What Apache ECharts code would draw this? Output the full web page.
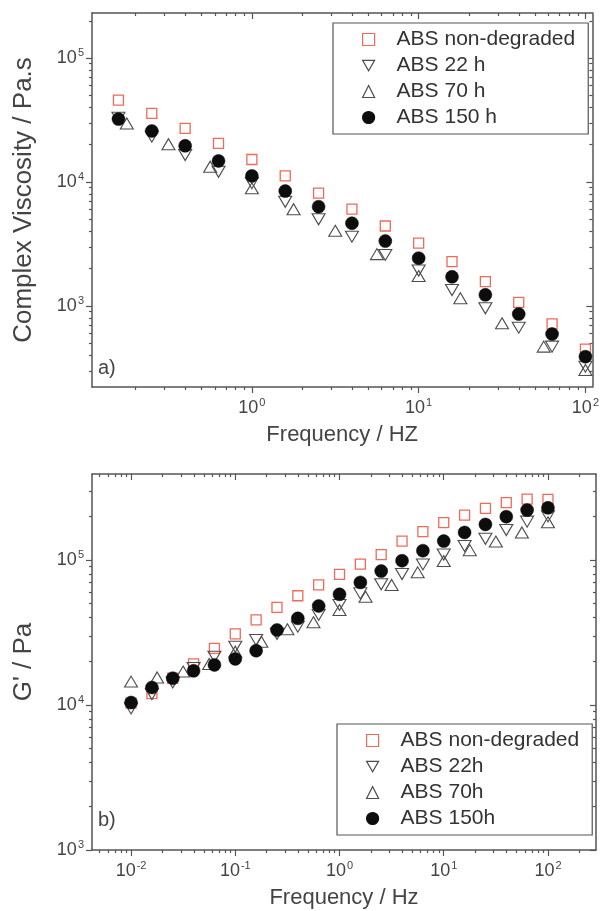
<!DOCTYPE html>
<html><head><meta charset="utf-8">
<script src="https://cdn.jsdelivr.net/npm/echarts@6/dist/echarts.min.js"></script>
<style>html,body{margin:0;padding:0;background:#fff}#c{width:602px;height:911px}</style>
</head><body><div id="c"></div>
<script>
// ---------- data: panel a) complex viscosity ----------
const freqA   = [0.1585, 0.2512, 0.3981, 0.631, 1, 1.585, 2.512, 3.981, 6.31, 10, 15.85, 25.12, 39.81, 63.1, 100];
const freqA70 = [0.1778, 0.3162, 0.5623, 1, 1.778, 3.162, 5.623, 10, 17.78, 31.62, 56.23, 100];
const etaNonDeg = [45800, 35800, 27100, 20500, 15200, 11200, 8150, 6050, 4420, 3210, 2280, 1570, 1070, 716, 448];
const eta22h    = [33000, 23200, 16500, 12100, 9800, 6930, 5000, 3620, 2580, 1930, 1345, 958, 668, 470, 324];
const eta70h    = [29700, 20200, 13300, 8900, 6030, 4040, 2620, 1745, 1154, 725, 470, 305];
const eta150h   = [32200, 25800, 19600, 14800, 11200, 8450, 6320, 4650, 3340, 2430, 1720, 1230, 861, 594, 390];
// ---------- data: panel b) storage modulus G' ----------
const freqB   = [0.01, 0.01585, 0.02512, 0.03981, 0.0631, 0.1, 0.1585, 0.2512, 0.3981, 0.631, 1, 1.585, 2.512, 3.981, 6.31, 10, 15.85, 25.12, 39.81, 63.1, 100];
const freqB70 = [0.01, 0.01778, 0.03162, 0.05623, 0.1, 0.1778, 0.3162, 0.5623, 1, 1.778, 3.162, 5.623, 10, 17.78, 31.62, 56.23, 100];
const gNonDeg = [10300, 12000, 15300, 19200, 24600, 30900, 38600, 47200, 56700, 67300, 79700, 93800, 109000, 135000, 157000, 181000, 204000, 227000, 249000, 263000, 262000];
const g22h    = [9470, 11900, 14300, 18000, 21500, 25200, 28100, 31000, 34700, 41800, 49000, 58900, 68000, 80000, 93300, 109000, 125000, 140000, 161000, 184000, 200000];
const g70h    = [14500, 15500, 17000, 19200, 23300, 27300, 33300, 37200, 45200, 55800, 67300, 82200, 98400, 117000, 134000, 155000, 182000];
const g150h   = [10400, 13200, 15300, 17200, 18900, 20800, 23700, 32900, 39600, 48200, 58000, 70100, 83900, 98900, 116000, 135000, 155000, 176000, 199000, 221000, 229000];
// ---------- labels ----------
const namesA = ['ABS non-degraded', 'ABS 22 h', 'ABS 70 h', 'ABS 150 h'];
const namesB = ['ABS non-degraded', 'ABS 22h', 'ABS 70h', 'ABS 150h'];
const xTitleA = 'Frequency / HZ', yTitleA = 'Complex Viscosity / Pa.s';
const xTitleB = 'Frequency / Hz', yTitleB = "G' / Pa";

const FONT = '"Liberation Sans", Arial, sans-serif';
const AX = '#555', TXT = '#444';
const chart = echarts.init(document.getElementById('c'));

function pairs(xs, ys) { return xs.map((x, i) => [x, ys[i]]); }
function majors(lo, hi) { const v = []; for (let d = lo; d <= hi; d++) v.push(Math.pow(10, d)); return v; }
function minors(lo, hi) { const v = []; for (let d = lo; d <= hi; d++) for (let k = 2; k <= 9; k++) v.push(+(k * Math.pow(10, d)).toPrecision(6)); return v; }
function fmt(v) { const e = Math.round(Math.log10(v)); return '{b|10}{s|' + e + '}'; }
const rich = {
  b: {fontSize: 18, fontFamily: FONT, color: TXT},
  s: {fontSize: 11, fontFamily: FONT, color: TXT, padding: [0, 0, 11, 1]}
};

function axes(dim, g, min, max, lo, hi, title, nameGap, nameSize, labelMargin) {
  const mainPos = dim === 'x' ? 'bottom' : 'left';
  const oppPos = dim === 'x' ? 'top' : 'right';
  const base = {gridIndex: g, type: 'log', logBase: 10, min: min, max: max, splitLine: {show: false}, minorTick: {show: false}};
  const tickStyle = {color: AX, width: 1.2};
  return [
    Object.assign({}, base, {
      position: mainPos,
      axisLine: {show: true, lineStyle: {color: AX, width: 1.5}},
      axisTick: {show: true, inside: false, length: 6, customValues: majors(lo, hi), lineStyle: tickStyle},
      axisLabel: {show: true, customValues: majors(lo, hi), formatter: fmt, rich: rich, margin: labelMargin},
      name: title, nameLocation: 'middle', nameGap: nameGap,
      nameTextStyle: {fontSize: nameSize, fontFamily: FONT, color: TXT}
    }),
    Object.assign({}, base, {
      position: mainPos,
      axisLine: {show: false},
      axisTick: {show: true, inside: false, length: 3, customValues: minors(lo - 1, hi), lineStyle: tickStyle},
      axisLabel: {show: false}
    }),
    Object.assign({}, base, {
      position: oppPos,
      axisLine: {show: true, lineStyle: {color: AX, width: 1.5}},
      axisTick: {show: true, inside: true, length: 6, customValues: majors(lo, hi), lineStyle: tickStyle},
      axisLabel: {show: false}
    }),
    Object.assign({}, base, {
      position: oppPos,
      axisLine: {show: false},
      axisTick: {show: true, inside: true, length: 3, customValues: minors(lo - 1, hi), lineStyle: tickStyle},
      axisLabel: {show: false}
    })
  ];
}

const downTri = 'path://M0,0L20,0L10,17.3Z';
const styles = [
  {symbol: 'rect', symbolSize: 10, itemStyle: {color: 'rgba(0,0,0,0)', borderColor: '#ef6a5a', borderWidth: 1.3, opacity: 1}},
  {symbol: downTri, symbolSize: [13, 11], itemStyle: {color: 'rgba(0,0,0,0)', borderColor: '#4d4d4d', borderWidth: 1.1, opacity: 1}},
  {symbol: 'triangle', symbolSize: [13, 11], itemStyle: {color: 'rgba(0,0,0,0)', borderColor: '#4d4d4d', borderWidth: 1.1, opacity: 1}},
  {symbol: 'circle', symbolSize: 13, itemStyle: {color: '#0d0d0d', borderColor: '#0d0d0d', borderWidth: 0.5, opacity: 1}}
];
function mk(name, g, data, k) {
  return Object.assign({type: 'scatter', name: name, xAxisIndex: g * 4, yAxisIndex: g * 4, data: data, emphasis: {disabled: true}, animation: false}, styles[k]);
}
const series = [
  mk(namesA[0], 0, pairs(freqA, etaNonDeg), 0),
  mk(namesA[1], 0, pairs(freqA, eta22h), 1),
  mk(namesA[2], 0, pairs(freqA70, eta70h), 2),
  mk(namesA[3], 0, pairs(freqA, eta150h), 3),
  mk(namesB[0], 1, pairs(freqB, gNonDeg), 0),
  mk(namesB[1], 1, pairs(freqB, g22h), 1),
  mk(namesB[2], 1, pairs(freqB70, g70h), 2),
  mk(namesB[3], 1, pairs(freqB, g150h), 3)
];

function legend(names, left, top) {
  return {
    data: names, orient: 'vertical', left: left, top: top,
    padding: [6, 13, 6, 29], itemGap: 5, itemWidth: 12, itemHeight: 12,
    borderColor: '#555', borderWidth: 1.2, backgroundColor: '#fff',
    selectedMode: false,
    itemStyle: {borderWidth: 1.2, opacity: 1},
    textStyle: {fontSize: 21, fontFamily: FONT, color: '#333', lineHeight: 20, padding: [0, 0, 0, 17]}
  };
}

chart.setOption({
  animation: false,
  backgroundColor: '#fff',
  grid: [
    {left: 92, top: 13, width: 504, height: 374},
    {left: 92, top: 474, width: 504, height: 376}
  ],
  xAxis: [].concat(
    axes('x', 0, 0.110, 110, -1, 2, xTitleA, 37, 22, 10),
    axes('x', 1, 0.00422, 289, -3, 2, xTitleB, 37, 22, 10)
  ),
  yAxis: [].concat(
    axes('y', 0, 222, 231000, 2, 5, yTitleA, 55, 26, 8),
    axes('y', 1, 1000, 392000, 3, 5, yTitleB, 55, 26, 8)
  ),
  legend: [legend(namesA, 333, 23), legend(namesB, 337, 724)],
  graphic: [
    {type: 'text', left: 98, top: 358, style: {text: 'a)', fontSize: 20, fontFamily: FONT, fill: TXT}},
    {type: 'text', left: 98, top: 810, style: {text: 'b)', fontSize: 20, fontFamily: FONT, fill: TXT}}
  ],
  series: series
});
</script></body></html>
